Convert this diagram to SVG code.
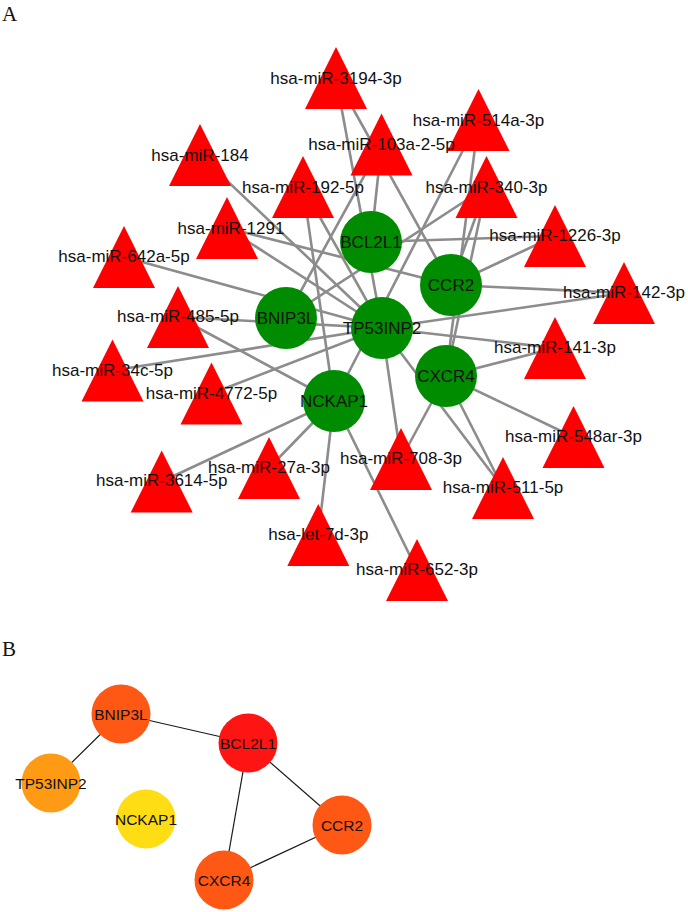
<svg xmlns="http://www.w3.org/2000/svg" xmlns:xlink="http://www.w3.org/1999/xlink" width="688" height="912" viewBox="0 0 688 912">
<style>
.e{stroke:#8c8c8c;stroke-width:2.6;fill:none}
.eb{stroke:#1a1a1a;stroke-width:1.2;fill:none}
.tri{fill:#ff0000}
.gene{fill:#008c00}
.lbl{font-family:"Liberation Sans",Arial,sans-serif;font-size:17px;fill:#111;text-anchor:middle}
.lblb{font-family:"Liberation Sans",Arial,sans-serif;font-size:15.5px;fill:#111;text-anchor:middle}
.panel{font-family:"Liberation Serif","Times New Roman",serif;font-size:21px;fill:#111}
</style>
<defs>
<polygon id="t" points="0,-31 -31,31 31,31"/>
</defs>
<rect width="688" height="912" fill="#fff"/>
<text class="panel" x="2" y="21">A</text>
<text class="panel" x="2" y="656">B</text>
<g id="edges-A">
<line class="e" x1="336" y1="78" x2="382" y2="328"/>
<line class="e" x1="336" y1="78" x2="451" y2="285"/>
<line class="e" x1="381.5" y1="144.5" x2="371" y2="242"/>
<line class="e" x1="381.5" y1="144.5" x2="286" y2="318"/>
<line class="e" x1="478.5" y1="120" x2="334" y2="401"/>
<line class="e" x1="478.5" y1="120" x2="446" y2="376"/>
<line class="e" x1="200" y1="155" x2="382" y2="328"/>
<line class="e" x1="303" y1="187" x2="382" y2="328"/>
<line class="e" x1="303" y1="187" x2="334" y2="401"/>
<line class="e" x1="486.5" y1="187" x2="451" y2="285"/>
<line class="e" x1="486.5" y1="187" x2="446" y2="376"/>
<line class="e" x1="486.5" y1="187" x2="286" y2="318"/>
<line class="e" x1="227" y1="228" x2="451" y2="285"/>
<line class="e" x1="227" y1="228" x2="382" y2="328"/>
<line class="e" x1="555" y1="236" x2="371" y2="242"/>
<line class="e" x1="555" y1="236" x2="451" y2="285"/>
<line class="e" x1="124" y1="257" x2="382" y2="328"/>
<line class="e" x1="624" y1="293" x2="451" y2="285"/>
<line class="e" x1="624" y1="293" x2="382" y2="328"/>
<line class="e" x1="178" y1="317" x2="382" y2="328"/>
<line class="e" x1="178" y1="317" x2="334" y2="401"/>
<line class="e" x1="112.5" y1="370.5" x2="382" y2="328"/>
<line class="e" x1="555" y1="348" x2="382" y2="328"/>
<line class="e" x1="555" y1="348" x2="446" y2="376"/>
<line class="e" x1="211.5" y1="393.5" x2="382" y2="328"/>
<line class="e" x1="573.5" y1="437" x2="446" y2="376"/>
<line class="e" x1="161.7" y1="481.5" x2="334" y2="401"/>
<line class="e" x1="269" y1="468" x2="334" y2="401"/>
<line class="e" x1="401" y1="459" x2="382" y2="328"/>
<line class="e" x1="401" y1="459" x2="446" y2="376"/>
<line class="e" x1="503" y1="488" x2="382" y2="328"/>
<line class="e" x1="503" y1="488" x2="446" y2="376"/>
<line class="e" x1="318.3" y1="535" x2="334" y2="401"/>
<line class="e" x1="417" y1="570" x2="334" y2="401"/>
</g>
<g id="mir-3194-3p"><use href="#t" class="tri" x="336" y="78"/><text class="lbl" x="336" y="84">hsa-miR-3194-3p</text></g>
<g id="mir-514a-3p"><use href="#t" class="tri" x="478.5" y="120"/><text class="lbl" x="478.5" y="126">hsa-miR-514a-3p</text></g>
<g id="mir-184"><use href="#t" class="tri" x="200" y="155"/><text class="lbl" x="200" y="161">hsa-miR-184</text></g>
<g id="mir-103a-2-5p"><use href="#t" class="tri" x="381.5" y="144.5"/><text class="lbl" x="381.5" y="150">hsa-miR-103a-2-5p</text></g>
<g id="mir-192-5p"><use href="#t" class="tri" x="303" y="187"/><text class="lbl" x="303" y="192.5">hsa-miR-192-5p</text></g>
<g id="mir-340-3p"><use href="#t" class="tri" x="486.5" y="187"/><text class="lbl" x="486.5" y="192.5">hsa-miR-340-3p</text></g>
<g id="mir-1291"><use href="#t" class="tri" x="227" y="228"/><text class="lbl" x="231" y="233.5">hsa-miR-1291</text></g>
<g id="mir-1226-3p"><use href="#t" class="tri" x="555" y="236"/><text class="lbl" x="555" y="241">hsa-miR-1226-3p</text></g>
<g id="mir-642a-5p"><use href="#t" class="tri" x="124" y="257"/><text class="lbl" x="124" y="262">hsa-miR-642a-5p</text></g>
<g id="mir-142-3p"><use href="#t" class="tri" x="624" y="293"/><text class="lbl" x="624" y="298">hsa-miR-142-3p</text></g>
<g id="mir-485-5p"><use href="#t" class="tri" x="178" y="317"/><text class="lbl" x="178" y="322">hsa-miR-485-5p</text></g>
<g id="mir-34c-5p"><use href="#t" class="tri" x="112.5" y="370.5"/><text class="lbl" x="112.5" y="375.5">hsa-miR-34c-5p</text></g>
<g id="mir-141-3p"><use href="#t" class="tri" x="555" y="348"/><text class="lbl" x="555" y="353">hsa-miR-141-3p</text></g>
<g id="mir-4772-5p"><use href="#t" class="tri" x="211.5" y="393.5"/><text class="lbl" x="211.5" y="398.5">hsa-miR-4772-5p</text></g>
<g id="mir-548ar-3p"><use href="#t" class="tri" x="573.5" y="437"/><text class="lbl" x="573.5" y="442">hsa-miR-548ar-3p</text></g>
<g id="mir-3614-5p"><use href="#t" class="tri" x="161.7" y="481.5"/><text class="lbl" x="161.7" y="486">hsa-miR-3614-5p</text></g>
<g id="mir-27a-3p"><use href="#t" class="tri" x="269" y="468"/><text class="lbl" x="269" y="473">hsa-miR-27a-3p</text></g>
<g id="mir-708-3p"><use href="#t" class="tri" x="401" y="459"/><text class="lbl" x="401" y="464">hsa-miR-708-3p</text></g>
<g id="mir-511-5p"><use href="#t" class="tri" x="503" y="488"/><text class="lbl" x="503" y="493">hsa-miR-511-5p</text></g>
<g id="let-7d-3p"><use href="#t" class="tri" x="318.3" y="535"/><text class="lbl" x="318.3" y="540">hsa-let-7d-3p</text></g>
<g id="mir-652-3p"><use href="#t" class="tri" x="417" y="570"/><text class="lbl" x="417" y="575">hsa-miR-652-3p</text></g>
<g id="A-BCL2L1"><circle class="gene" cx="371" cy="242" r="31"/><text class="lbl" x="371" y="248">BCL2L1</text></g>
<g id="A-CCR2"><circle class="gene" cx="451" cy="285" r="31"/><text class="lbl" x="451" y="291">CCR2</text></g>
<g id="A-BNIP3L"><circle class="gene" cx="286" cy="318" r="31"/><text class="lbl" x="286" y="324">BNIP3L</text></g>
<g id="A-TP53INP2"><circle class="gene" cx="382" cy="328" r="31"/><text class="lbl" x="382" y="334">TP53INP2</text></g>
<g id="A-CXCR4"><circle class="gene" cx="446" cy="376" r="31"/><text class="lbl" x="446" y="382">CXCR4</text></g>
<g id="A-NCKAP1"><circle class="gene" cx="334" cy="401" r="31"/><text class="lbl" x="334" y="407">NCKAP1</text></g>
<g id="edges-B">
<line class="eb" x1="121" y1="714" x2="51" y2="783"/>
<line class="eb" x1="121" y1="714" x2="248" y2="743"/>
<line class="eb" x1="248" y1="743" x2="342" y2="825"/>
<line class="eb" x1="248" y1="743" x2="224" y2="880"/>
<line class="eb" x1="224" y1="880" x2="342" y2="825"/>
</g>
<g id="B-BNIP3L"><circle cx="121" cy="714" r="29.5" fill="#ff5714"/><text class="lblb" x="121" y="719.5">BNIP3L</text></g>
<g id="B-BCL2L1"><circle cx="248" cy="743" r="29.5" fill="#ff1414"/><text class="lblb" x="248" y="748.5">BCL2L1</text></g>
<g id="B-TP53INP2"><circle cx="51" cy="783" r="29.5" fill="#ff9a14"/><text class="lblb" x="51" y="788.5">TP53INP2</text></g>
<g id="B-NCKAP1"><circle cx="146" cy="819" r="29.5" fill="#ffdd14"/><text class="lblb" x="146" y="824.5">NCKAP1</text></g>
<g id="B-CCR2"><circle cx="342" cy="825" r="29.5" fill="#ff5714"/><text class="lblb" x="342" y="830.5">CCR2</text></g>
<g id="B-CXCR4"><circle cx="224" cy="880" r="29.5" fill="#ff5714"/><text class="lblb" x="224" y="885.5">CXCR4</text></g>
</svg>
